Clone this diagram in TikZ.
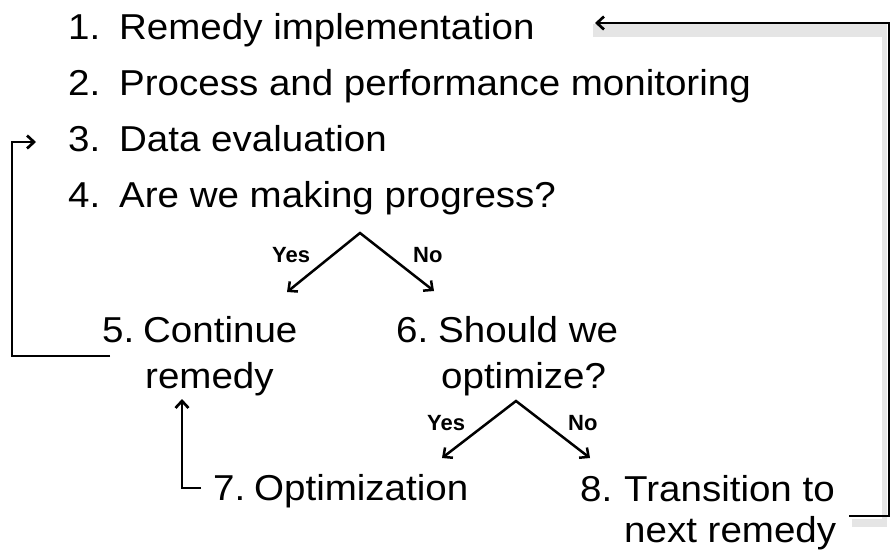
\documentclass[tikz,border=0pt]{standalone}
\usepackage{fontspec}
\setmainfont[FakeStretch=1.07]{Liberation Sans}
\newfontfamily\lblfont{Liberation Sans}
\usetikzlibrary{arrows.meta}
\begin{document}
\begin{tikzpicture}[x=1pt,y=-1pt,
  txt/.style={anchor=base west,inner sep=0pt,font=\fontsize{36}{43}\selectfont},
  lbl/.style={anchor=base west,inner sep=0pt,font=\lblfont\bfseries\fontsize{22}{26}\selectfont},
  conn/.style={line width=2.7pt,line join=miter,-{Straight Barb[length=7pt,width=13pt]}},
  fork/.style={line width=2.5pt,line join=miter,{Straight Barb[length=7pt,width=13pt]}-{Straight Barb[length=7pt,width=13pt]}},
  shade/.style={fill=black!10,draw=none}]
\useasboundingbox (0,0) rectangle (892,557);

% list items
\node[txt] (n1) at (68,39)  {\makebox[51pt][l]{1.}Remedy implementation};
\node[txt] (n2) at (68,95)  {\makebox[51pt][l]{2.}Process and performance monitoring};
\node[txt] (n3) at (68,151) {\makebox[51pt][l]{3.}Data evaluation};
\node[txt] (n4) at (68,207) {\makebox[51pt][l]{4.}Are we making progress?};

\node[txt] (n5)  at (102,342) {\makebox[41pt][l]{5.}Continue};
\node[txt] (n5b) at (145,388) {remedy};
\node[txt] (n6)  at (396,342) {\makebox[42pt][l]{6.}Should we};
\node[txt] (n6b) at (441,388) {optimize?};
\node[txt] (n7)  at (213,500) {\makebox[41pt][l]{7.}Optimization};
\node[txt] (n8)  at (580,501) {\makebox[44pt][l]{8.}Transition to};
\node[txt] (n8b) at (624,542) {next remedy};

% yes/no labels
\node[lbl] (y1) at (272,262) {Yes};
\node[lbl] (no1) at (413,262) {No};
\node[lbl] (y2) at (427,430) {Yes};
\node[lbl] (no2) at (568,430) {No};

% coordinates
\coordinate (ap1) at (360,233);
\coordinate (yt1) at (287,292);
\coordinate (nt1) at (434,291);
\coordinate (ap2) at (516,401);
\coordinate (yt2) at (442,458);
\coordinate (nt2) at (590,458);

\coordinate (la) at (110,356);
\coordinate (lb) at (12,356);
\coordinate (lc) at (12,142);
\coordinate (ld) at (36,142);

\coordinate (ua) at (201,488);
\coordinate (ub) at (182,488);
\coordinate (uc) at (182,399);

\coordinate (ra) at (849,516);
\coordinate (rb) at (889,516);
\coordinate (rc) at (889,23);
\coordinate (rd) at (595,23);

% shadow of the return connector
\fill[shade] (593,24) rectangle (884,37);
\fill[shade] (882,24) rectangle (887,527);
\fill[shade] (852,519) rectangle (887,527);

% connectors
\draw[fork] (yt1) -- (ap1) -- (nt1);
\draw[fork] (yt2) -- (ap2) -- (nt2);
\draw[conn] (la) -- (lb) -- (lc) -- (ld);
\draw[conn] (ua) -- (ub) -- (uc);
\draw[conn] (ra) -- (rb) -- (rc) -- (rd);
\end{tikzpicture}
\end{document}
